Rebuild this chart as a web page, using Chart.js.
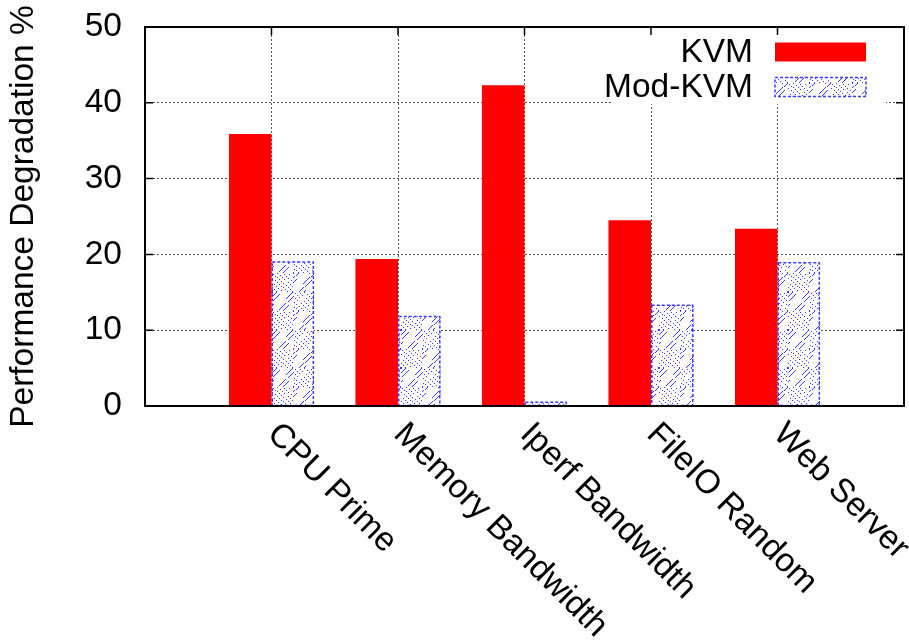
<!DOCTYPE html>
<html><head><meta charset="utf-8">
<script src="https://cdn.jsdelivr.net/npm/chart.js@4/dist/chart.umd.min.js"></script>
<style>html,body{margin:0;padding:0;background:#fff;overflow:hidden}</style>
</head><body>
<canvas id="c" width="909" height="641" style="display:block;width:909px;height:641px"></canvas>
<script>
const categories = ['CPU Prime', 'Memory Bandwidth', 'Iperf Bandwidth', 'FileIO Random', 'Web Server'];
const kvmValues = [35.9, 19.4, 42.3, 24.5, 23.4];
const modKvmValues = [19.0, 11.8, 0.5, 13.3, 18.9];
const yTickValues = [0, 10, 20, 30, 40, 50];
const seriesNames = ['KVM', 'Mod-KVM'];
const yTitle = 'Performance Degradation %';

const FONT = 'Liberation Sans';
const FS = 33.5;

function makePattern(ctx) {
  const w = 43, h = 38;
  const c = document.createElement('canvas');
  c.width = w; c.height = h;
  const g = c.getContext('2d');
  g.fillStyle = '#fff'; g.fillRect(0, 0, w, h);
  g.fillStyle = '#3a3aff';
  const centers = [[w/2, h/2], [0, 0], [w, 0], [0, h], [w, h]];
  for (let y = 0; y < h; y++) for (let x = 0; x < w; x++) {
    let d = 1e9;
    for (const [cx, cy] of centers) {
      const dd = Math.abs(x + 0.5 - cx) / (w/2) + Math.abs(y + 0.5 - cy) / (h/2);
      if (dd < d) d = dd;
    }
    const r = d * 4;
    const f = Math.abs(r - Math.round(r));
    if (d < 0.07) { g.fillRect(x, y, 1, 1); continue; }
    if (f < 0.09 && ((x + y) % 4 < 2)) g.fillRect(x, y, 1, 1);
  }
  const p = ctx.createPattern(c, 'repeat');
  if (p.setTransform) p.setTransform(new DOMMatrix().translate(14, 26));
  return p;
}

const canvas = document.getElementById('c');
const ctx0 = canvas.getContext('2d');
const modPattern = makePattern(ctx0);

function zeroPad(s) { s.paddingTop = 0; s.paddingBottom = 0; s.paddingLeft = 0; s.paddingRight = 0; }

const framePlugin = {
  id: 'frame',
  beforeDatasetsDraw(chart) {
    const {ctx, chartArea: ca} = chart;
    const yS = chart.scales.y;
    const boxL = ca.right - 292, boxR = ca.right - 18;
    const boxT = ca.top + 1, boxB = yS.getPixelForValue(40) + 1.5;
    ctx.save();
    ctx.fillStyle = '#fff';
    ctx.fillRect(boxL, boxT, boxR - boxL, boxB - boxT);
    ctx.font = FS + 'px "' + FONT + '"';
    ctx.textAlign = 'right';
    ctx.textBaseline = 'middle';
    ctx.fillStyle = '#000';
    const rows = [ca.top + 25, ca.top + 60];
    chart.data.datasets.forEach((ds, i) => {
      ctx.fillText(ds.label, ca.right - 151, rows[i] + 1);
      const sx = ca.right - 129, sw = 91, sh = 19, sy = rows[i] - sh / 2;
      ctx.fillStyle = ds.backgroundColor;
      ctx.fillRect(sx, sy, sw, sh);
      if (i === 1) {
        ctx.strokeStyle = '#3a3aff'; ctx.lineWidth = 1.5; ctx.setLineDash([3, 2]);
        ctx.strokeRect(sx, sy, sw, sh);
        ctx.setLineDash([]);
      }
      ctx.fillStyle = '#000';
    });
    ctx.restore();
  },
  afterDatasetsDraw(chart) {
    const {ctx, chartArea: ca} = chart;
    const xS = chart.scales.x, yS = chart.scales.y;
    ctx.save();
    const meta = chart.getDatasetMeta(1);
    ctx.strokeStyle = '#3a3aff'; ctx.lineWidth = 1.5; ctx.setLineDash([3, 2]);
    meta.data.forEach(el => {
      const {x, y, base, width} = el.getProps(['x', 'y', 'base', 'width'], true);
      ctx.strokeRect(x - width / 2 + 0.75, y, width - 1.5, base - y);
    });
    ctx.setLineDash([]);
    ctx.strokeStyle = '#000'; ctx.lineWidth = 2;
    ctx.strokeRect(ca.left, ca.top, ca.right - ca.left, ca.bottom - ca.top);
    ctx.lineWidth = 1.5;
    ctx.beginPath();
    yTickValues.forEach(v => {
      const py = yS.getPixelForValue(v);
      ctx.moveTo(ca.left, py); ctx.lineTo(ca.left + 8, py);
      ctx.moveTo(ca.right, py); ctx.lineTo(ca.right - 8, py);
    });
    categories.forEach((c, i) => {
      const px = xS.getPixelForValue(i);
      ctx.moveTo(px, ca.top); ctx.lineTo(px, ca.top + 8);
    });
    ctx.stroke();
    ctx.restore();
  },
  afterDraw(chart) {
    const {ctx, chartArea: ca} = chart;
    const xS = chart.scales.x;
    ctx.save();
    ctx.font = FS + 'px "' + FONT + '"';
    ctx.fillStyle = '#000';
    ctx.textAlign = 'left';
    ctx.textBaseline = 'middle';
    categories.forEach((c, i) => {
      const px = xS.getPixelForValue(i);
      ctx.save();
      ctx.translate(px + 1, ca.bottom + 23);
      ctx.rotate(Math.PI / 4);
      ctx.fillText(c, 0, 0);
      ctx.restore();
    });
    ctx.restore();
  }
};

new Chart(canvas, {
  type: 'bar',
  data: {
    datasets: [
      { label: seriesNames[0], data: kvmValues.map((v, i) => ({x: i, y: v})), backgroundColor: '#ff0000', borderWidth: 0 },
      { label: seriesNames[1], data: modKvmValues.map((v, i) => ({x: i, y: v})), backgroundColor: modPattern, borderWidth: 0 }
    ]
  },
  options: {
    responsive: false,
    animation: false,
    devicePixelRatio: 1,
    layout: { padding: { top: 27, right: 5, left: 0, bottom: 0 } },
    datasets: { bar: { categoryPercentage: 0.673, barPercentage: 1.0 } },
    plugins: { legend: { display: false }, tooltip: { enabled: false } },
    scales: {
      x: {
        type: 'linear', min: -1, max: 5, offset: false,
        afterBuildTicks: s => { s.ticks = categories.map((c, i) => ({value: i})); },
        ticks: { display: false },
        grid: { offset: false, color: '#555', lineWidth: 1, drawTicks: false },
        border: { display: false, dash: [2, 2] },
        afterFit: s => { s.height = 235; zeroPad(s); }
      },
      y: {
        min: 0, max: 50,
        afterBuildTicks: s => { s.ticks = yTickValues.map(v => ({value: v})); },
        ticks: { color: '#000', font: { family: FONT, size: FS }, padding: 23 },
        grid: { color: c => (c.tick && c.tick.value > 0 && c.tick.value < 50) ? '#555' : 'rgba(0,0,0,0)', lineWidth: 1, drawTicks: false },
        border: { display: false, dash: [2, 2] },
        title: { display: true, text: yTitle, color: '#000', font: { family: FONT, size: FS }, padding: { top: 4, bottom: 0 } },
        afterFit: s => { s.width = 145; zeroPad(s); }
      }
    }
  },
  plugins: [framePlugin]
});
</script>
</body></html>
